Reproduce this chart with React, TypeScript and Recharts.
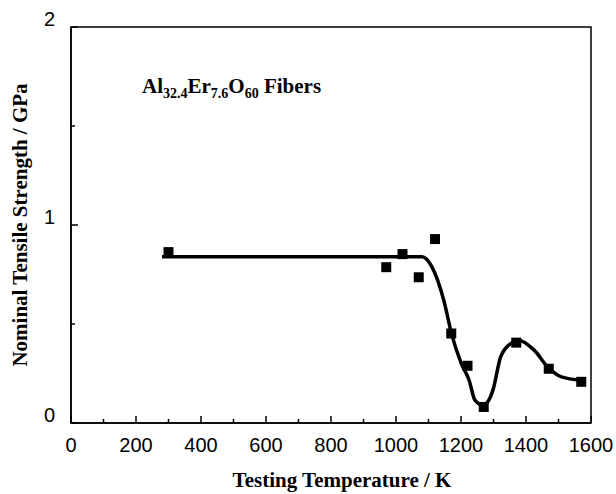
import type { FC } from "react";
import {
  ComposedChart,
  Line,
  Scatter,
  XAxis,
  YAxis,
  Label,
  ReferenceArea,
} from "recharts";

// measured points
const measuredTemps = [300, 970, 1020, 1070, 1120, 1170, 1220, 1270, 1370, 1470, 1570];
const measuredStrength = [0.863, 0.787, 0.853, 0.736, 0.929, 0.452, 0.289, 0.081, 0.406, 0.274, 0.208];

// hand-drawn trend curve
const fitTemps = [280, 700, 1080, 1110, 1147, 1171, 1201, 1225, 1243, 1268, 1298, 1322, 1352, 1376, 1425, 1467, 1509, 1570];
const fitStrength = [0.84, 0.84, 0.84, 0.79, 0.62, 0.45, 0.3, 0.216, 0.115, 0.09, 0.165, 0.334, 0.4, 0.418, 0.368, 0.283, 0.233, 0.216];

// every 100 K gets a tick, labels only on multiples of 200
const xTicks = [0, 100, 200, 300, 400, 500, 600, 700, 800, 900, 1000, 1100, 1200, 1300, 1400, 1500, 1600];
const yTicks = [0, 0.5, 1, 1.5, 2];

const points = measuredTemps.map((x, i) => ({ x, y: measuredStrength[i] }));
const curve = fitTemps.map((x, i) => ({ x, y: fitStrength[i] }));

const tickFamily = "Liberation Sans, Arial, sans-serif";
const titleFont = "Liberation Serif, Times New Roman, serif";
const X_GAP = 15;
const Y_GAP = 16;

const Square: FC<any> = ({ cx, cy }) => (
  <rect x={cx - 5} y={cy - 5} width={10} height={10} fill="#000" />
);

const XTick: FC<any> = ({ x, y, payload }) => {
  const major = payload.value % 200 === 0;
  const axisY = y - X_GAP;
  return (
    <g>
      <line x1={x} x2={x} y1={axisY} y2={axisY - (major ? 7 : 4)} stroke="#000" strokeWidth={1.5} />
      {major && (
        <text x={x} y={y} dy="0.71em" textAnchor="middle" fontSize={20} fontFamily={tickFamily} fill="#000">
          {payload.value}
        </text>
      )}
    </g>
  );
};

const YTick: FC<any> = ({ x, y, payload }) => {
  const major = Number.isInteger(payload.value);
  const axisX = x + Y_GAP;
  return (
    <g>
      <line x1={axisX} x2={axisX + (major ? 7 : 4)} y1={y} y2={y} stroke="#000" strokeWidth={1.5} />
      {major && (
        <text x={x} y={y - 8} dy="0.36em" textAnchor="end" fontSize={20} fontFamily={tickFamily} fill="#000">
          {payload.value}
        </text>
      )}
    </g>
  );
};

export default function App() {
  return (
    <div style={{ position: "absolute", left: 0, top: 0, width: 616, height: 494, background: "#fff" }}>
      <ComposedChart width={616} height={494} margin={{ top: 27, right: 25, left: 0, bottom: 0 }}>
        {/* plot box outline, drawn first so the data sits on top */}
        <ReferenceArea
          x1={0}
          x2={1600}
          y1={0}
          y2={2}
          fill="#fff"
          fillOpacity={1}
          stroke="#000"
          strokeWidth={1.5}
          ifOverflow="extendDomain"
        />
        <XAxis
          dataKey="x"
          type="number"
          domain={[0, 1600]}
          ticks={xTicks}
          interval={0}
          height={71}
          stroke="#000"
          strokeWidth={1.5}
          tickLine={false}
          tickSize={0}
          tickMargin={X_GAP}
          tick={<XTick />}
        >
          <Label
            value="Testing Temperature / K"
            position="insideBottom"
            offset={7}
            dx={11}
            style={{ fill: "#000", fontSize: 21, fontWeight: 700, fontFamily: titleFont }}
          />
        </XAxis>
        <YAxis
          dataKey="y"
          type="number"
          domain={[0, 2]}
          ticks={yTicks}
          interval={0}
          width={71}
          stroke="#000"
          strokeWidth={1.5}
          tickLine={false}
          tickSize={0}
          tickMargin={Y_GAP}
          tick={<YTick />}
        >
          <Label
            value="Nominal Tensile Strength / GPa"
            angle={-90}
            position="insideLeft"
            offset={20}
            style={{ fill: "#000", fontSize: 21, fontWeight: 700, fontFamily: titleFont, textAnchor: "middle" }}
          />
        </YAxis>
        <Line
          data={curve}
          dataKey="y"
          type="monotone"
          stroke="#000"
          strokeWidth={3.5}
          dot={false}
          activeDot={false}
          isAnimationActive={false}
        />
        <Scatter data={points} dataKey="y" shape={<Square />} isAnimationActive={false} />
      </ComposedChart>
      <div
        style={{
          position: "absolute",
          left: 142,
          top: 75,
          fontFamily: titleFont,
          fontWeight: 700,
          fontSize: 21,
          lineHeight: "22px",
          color: "#000",
          whiteSpace: "nowrap",
        }}
      >
        Al<sub style={{ fontSize: 14, lineHeight: 0 }}>32.4</sub>Er<sub style={{ fontSize: 14, lineHeight: 0 }}>7.6</sub>O
        <sub style={{ fontSize: 14, lineHeight: 0 }}>60</sub> Fibers
      </div>
    </div>
  );
}
